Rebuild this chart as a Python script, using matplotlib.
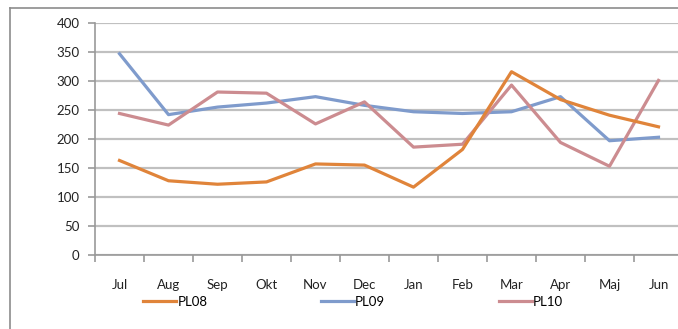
import matplotlib
matplotlib.use("Agg")
import matplotlib.pyplot as plt
from matplotlib.lines import Line2D

months = ["Jul", "Aug", "Sep", "Okt", "Nov", "Dec", "Jan", "Feb", "Mar", "Apr", "Maj", "Jun"]
pl08 = [163, 128, 122, 126, 157, 155, 117, 182, 316, 268, 241, 221]
pl09 = [347, 242, 255, 262, 273, 258, 247, 244, 247, 273, 197, 203]
pl10 = [244, 224, 281, 279, 226, 264, 186, 191, 293, 194, 153, 301]
y_ticks = [0, 50, 100, 150, 200, 250, 300, 350, 400]

plt.rcParams["font.family"] = ["Lato", "DejaVu Sans"]

fig = plt.figure(figsize=(6.78, 3.29), dpi=100)
fig.patch.set_facecolor("white")

# outer chart frame (left and top edges)
frame_color = "#8c8c8c"
fig.add_artist(Line2D([10 / 678, 10 / 678], [0, 1 - 8 / 329], transform=fig.transFigure,
                      color=frame_color, lw=1.2))
fig.add_artist(Line2D([10 / 678, 1], [1 - 8 / 329, 1 - 8 / 329], transform=fig.transFigure,
                      color=frame_color, lw=1.2))

ax = fig.add_axes([95 / 678, 1 - 255 / 329, (683 - 95) / 678, (255 - 23) / 329])
x = list(range(len(months)))

colors = {"PL08": "#E0843A", "PL09": "#7F9BCC", "PL10": "#CC8C90"}
ax.plot(x, pl08, color=colors["PL08"], lw=2.3, label="PL08", zorder=3)
ax.plot(x, pl09, color=colors["PL09"], lw=2.3, label="PL09", zorder=2)
ax.plot(x, pl10, color=colors["PL10"], lw=2.3, label="PL10", zorder=2.5)

ax.set_xlim(-0.5, len(months) - 0.5)
ax.set_ylim(0, 400)
ax.set_yticks(y_ticks)
ax.set_yticklabels([str(v) for v in y_ticks], fontsize=9.5, color="#222222")
ax.yaxis.grid(True, color="#c0c0c0", lw=1.6)
ax.set_axisbelow(True)

ax.set_xticks([i - 0.5 for i in x] + [len(months) - 0.5])
ax.set_xticklabels([])
ax.set_xticks(x, minor=True)
ax.set_xticklabels(months, minor=True, fontsize=9.5, color="#222222")
ax.tick_params(axis="x", which="minor", length=0, pad=17)
ax.tick_params(axis="x", which="major", length=5, color="#999999", width=1.2, direction="out")
ax.tick_params(axis="y", length=5, color="#999999", width=1.2, pad=6)

for side in ["top", "right"]:
    ax.spines[side].set_visible(False)
for side in ["left", "bottom"]:
    ax.spines[side].set_color("#999999")
    ax.spines[side].set_linewidth(1.2)

fig.legend(loc="center left", bbox_to_anchor=(143 / 678, 1 - 302 / 329), ncol=3,
           frameon=False, fontsize=9.5, handlelength=2.5, handletextpad=0.1,
           columnspacing=8.6, borderaxespad=0, borderpad=0)

fig.savefig("out.png", dpi=100, facecolor="white")
